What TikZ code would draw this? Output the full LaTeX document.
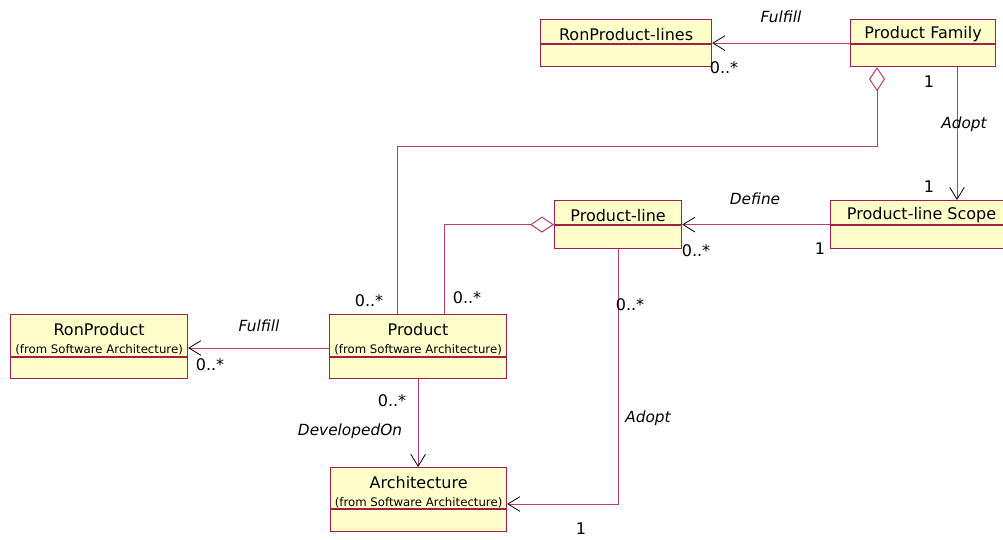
\documentclass[tikz,border=0pt]{standalone}
\usepackage{fontspec}
\setmainfont{DejaVu Sans}
\usetikzlibrary{arrows.meta}
\definecolor{boxfill}{RGB}{255,255,204}
\definecolor{boxline}{RGB}{165,30,70}
\definecolor{conn}{RGB}{185,60,105}
\newcommand\umlcls[7]{% name, x, y, w, h, divider offset, text
  \node[umlbox, minimum width=#4*0.75pt, minimum height=#5*0.75pt] (#1) at (#2,#3) {};
  \draw[boxline, line width=0.8pt] ([yshift=-#6*0.75pt]#1.north west) -- ([yshift=-#6*0.75pt]#1.north east);
  \node[clsname] (#1-t) at ([yshift=-#6*0.375pt-2.2pt]#1.north) {#7};
}
\newcommand\umlclsfrom[7]{% name, x, y, w, h, divider offset, text
  \node[umlbox, minimum width=#4*0.75pt, minimum height=#5*0.75pt] (#1) at (#2,#3) {};
  \draw[boxline, line width=0.8pt] ([yshift=-#6*0.75pt]#1.north west) -- ([yshift=-#6*0.75pt]#1.north east);
  \node[clsname] (#1-t) at ([yshift=-16*0.75pt]#1.north) {#7};
  \node[clsfrom] (#1-s) at ([yshift=-35.5*0.75pt]#1.north) {(from Software Architecture)};
}
\begin{document}
\begin{tikzpicture}[x=0.75pt,y=-0.75pt,
  umlbox/.style={draw=boxline, fill=boxfill, line width=0.9pt, inner sep=0pt, anchor=north west},
  clsname/.style={inner sep=0pt, font=\fontsize{12}{14}\selectfont},
  clsfrom/.style={inner sep=0pt, font=\fontsize{8.8}{10}\selectfont},
  lbl/.style={inner sep=0pt, font=\fontsize{11.5}{13}\selectfont\itshape},
  mult/.style={inner sep=0pt, font=\fontsize{12}{14}\selectfont},
  conn/.style={draw=conn, line width=0.75pt},
  arr/.style={-{Straight Barb[length=9pt,width=11pt,line width=0.6pt,color=black]}},
  agg/.style={{Diamond[length=18pt,width=12pt,fill=white,color=conn,line width=0.75pt]}-}
]
\clip (0,0) rectangle (1003,539);

% classes
\umlcls{rpl}{540}{19}{171}{47}{25}{RonProduct-lines}
\umlcls{pf}{850}{19}{145}{47}{25}{Product Family}
\umlcls{pls}{830}{200}{182}{48}{25}{Product-line Scope}
\umlcls{pl}{554}{200}{127}{48}{25}{Product-line}
\umlclsfrom{rp}{10}{314}{177}{64}{43}{RonProduct}
\umlclsfrom{p}{329}{314}{177}{64}{43}{Product}
\umlclsfrom{ar}{330}{467}{176}{64}{42}{Architecture}

% helper coordinates
\coordinate (a1) at (957,0);
\coordinate (g1) at (877,146);
\coordinate (g1b) at (397,146);
\coordinate (g2) at (444,224);
\coordinate (g3) at (618,504);
\coordinate (f2) at (0,348);

% connectors
\draw[conn, arr] (pf.west) -- (rpl.east);
\draw[conn, arr] (pf.south -| a1) -- (pls.north -| a1);
\draw[conn, agg] (pf.south -| g1) -- (g1) -- (g1b) -- (g1b |- p.north);
\draw[conn, arr] (pls.west) -- (pl.east);
\draw[conn, agg] (pl.west) -- (pl.west -| g2) -- (g2 |- p.north);
\draw[conn, arr] (pl.south -| g3) -- (g3) -- (g3 -| ar.east);
\draw[conn, arr] (p.west |- f2) -- (rp.east |- f2);
\draw[conn, arr] (p.south) -- (p.south |- ar.north);

% labels
\node[lbl] (l1) at (781,17) {Fulfill};
\node[mult] (m1) at (724,68) {0..*};
\node[mult] (m2) at (929,82) {1};
\node[lbl] (l2) at (964,124) {Adopt};
\node[mult] (m3) at (929,187) {1};
\node[lbl] (l3) at (755,199) {Define};
\node[mult] (m4) at (696,251) {0..*};
\node[mult] (m5) at (820,249) {1};
\node[mult] (m6) at (369,301) {0..*};
\node[mult] (m7) at (467,298) {0..*};
\node[mult] (m8) at (630,305) {0..*};
\node[lbl] (l4) at (259,326) {Fulfill};
\node[mult] (m9) at (210,365) {0..*};
\node[mult] (m10) at (392,401) {0..*};
\node[lbl] (l5) at (350,431) {DevelopedOn};
\node[lbl] (l6) at (648,418) {Adopt};
\node[mult] (m11) at (581,529) {1};
\end{tikzpicture}
\end{document}
